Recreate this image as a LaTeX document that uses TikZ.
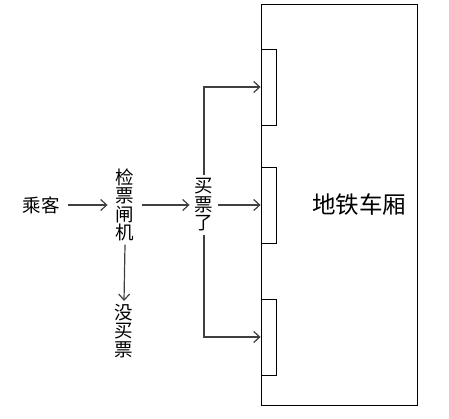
\documentclass[tikz,border=0pt]{standalone}
\usepackage{fontspec}
\newfontfamily\cjk{Noto Sans CJK SC}
\definecolor{lineg}{RGB}{64,64,64}
\usetikzlibrary{arrows.meta,positioning}

\begin{document}
\begin{tikzpicture}[x=1pt, y=-1pt,
  word/.style={font=\cjk\fontsize{18.5}{18.5}\selectfont, align=center,
    inner xsep=8pt, inner ysep=3pt},
  door/.style={draw, line width=0.8pt, minimum width=15pt, minimum height=76pt,
    inner sep=0pt},
  flow/.style={-{Straight Barb[length=6pt,width=11pt]}, lineg, line width=1.2pt}]

\useasboundingbox (0,0) rectangle (449,419);

% train car
\node[draw, line width=0.8pt, minimum width=156pt, minimum height=401pt,
      inner sep=0pt] (car) at (339,205) {};
\node[font=\cjk\fontsize{23.5}{24}\selectfont] (carlabel) at (359,205) {地铁车厢};

% doors
\node[door] (door1) at (268.5,87) {};
\node[door] (door2) at (268.5,205) {};
\node[door] (door3) at (268.5,337) {};

% people and gate
\node[word] (passenger) at (41,205) {乘客};
\node[word] (gate) at (125,205) {检\\票\\闸\\机};
\node[word, inner xsep=5pt] (buy) at (204,205) {买\\票\\了};
\node[word] (nobuy) at (124,331) {没\\买\\票};

% arrows
\draw[flow] (passenger.east) -- (gate.west);
\draw[flow] (gate.east) -- (buy.west);
\draw[flow] (buy.east) -- (door2.west);
\draw[flow] (gate.south) -- (nobuy.north);
\draw[flow] (buy.north) |- (door1.west);
\draw[flow] (buy.south) |- (door3.west);

\end{tikzpicture}
\end{document}
